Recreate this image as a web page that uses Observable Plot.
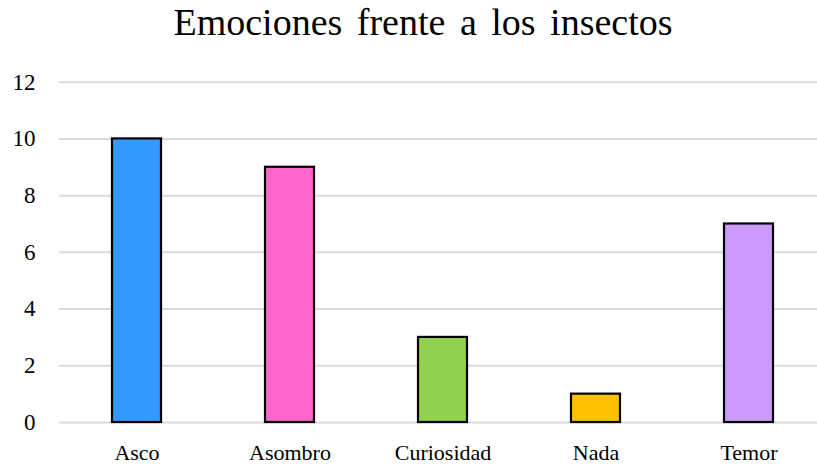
<!DOCTYPE html>
<html><head><meta charset="utf-8">
<script src="https://cdn.jsdelivr.net/npm/d3@7"></script>
<script src="https://cdn.jsdelivr.net/npm/@observablehq/plot@0.6"></script>
<style>
body{margin:0;background:#fff;}
#title{height:60px;line-height:44px;text-align:center;padding-left:29px;box-sizing:border-box;width:817px;font-family:"Liberation Serif","Times New Roman",serif;font-size:38px;word-spacing:5px;color:#000;white-space:nowrap;}
svg{display:block;}
</style></head><body>
<div id="title">Emociones frente a los insectos</div>
<div id="chart"></div>
<script>
const categories = ["Asco","Asombro","Curiosidad","Nada","Temor"];
const values = [10, 9, 3, 1, 7];
const colors = ["#3399FF","#FF66CC","#92D050","#FFC000","#CC99FF"];
const yTicks = [0,2,4,6,8,10,12];

const data = categories.map((c,i)=>({cat:c, value:values[i], color:colors[i]}));

const chart = Plot.plot({
  width: 817,
  height: 406,
  marginLeft: 59,
  marginRight: 0,
  marginTop: 21.7,
  marginBottom: 44,
  style: {fontFamily: '"Liberation Serif","Times New Roman",serif', fontSize: "22px", color: "#000", background: "#fff"},
  x: {domain: categories, range: [59, 826.5], paddingInner: 0.68, paddingOuter: 0.34, align: 0.5, label: null},
  y: {domain: [0, 12], ticks: yTicks, label: null},
  marks: [
    Plot.ruleY(yTicks, {stroke: "#d9d9d9", strokeWidth: 2}),
    Plot.axisY({ticks: yTicks, tickSize: 0, tickPadding: 24, label: null, fill: "#000", fontSize: 23}),
    Plot.axisX({tickSize: 0, tickPadding: 22, label: null, fill: "#000", fontSize: 22, style: {letterSpacing: "1.6px"}}),
    Plot.barY(data, {x: "cat", y: "value", fill: "color", stroke: "#000", strokeWidth: 2.2})
  ]
});
document.getElementById("chart").appendChild(chart);
</script>
</body></html>
